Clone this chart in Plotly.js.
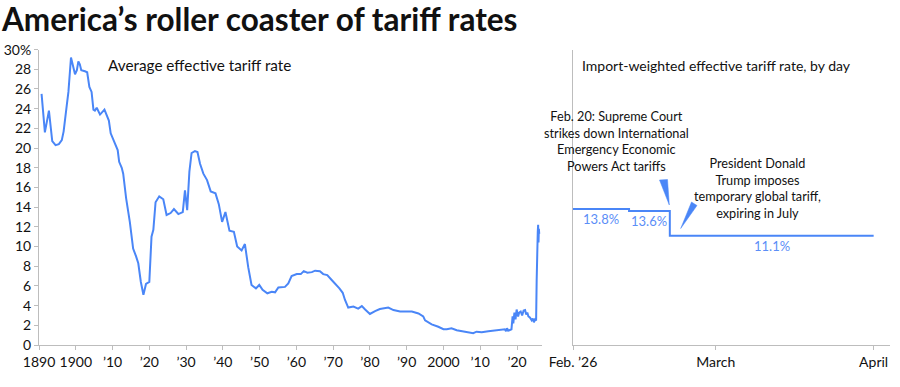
<!DOCTYPE html>
<html>
<head>
<meta charset="utf-8">
<script src="https://cdn.plot.ly/plotly-3.0.1.min.js"></script>
<style>html,body{margin:0;padding:0;background:#fff}#chart{width:900px;height:387px}</style>
</head>
<body>
<div id="chart"></div>
<script>
// ---- Data: average effective tariff rate (percent), by year ----
const histYears = [1890.7,1891.6,1892.7,1893.6,1894.5,1895.4,1896.2,1896.7,1897.6,1898.0,1898.7,1899.2,1899.8,1900.3,1900.7,1901.1,1901.5,1902.5,1903.1,1903.7,1904.3,1904.8,1905.2,1905.7,1906.6,1907.8,1908.4,1909.0,1909.5,1910.2,1910.7,1911.4,1911.8,1912.5,1912.9,1913.7,1914.7,1915.6,1916.4,1917.0,1917.7,1918.4,1919.1,1920.0,1920.6,1921.1,1921.7,1922.7,1923.8,1924.7,1925.8,1926.7,1927.9,1929.1,1929.7,1930.3,1930.9,1931.5,1932.4,1933.1,1933.8,1934.7,1935.7,1936.7,1938.0,1938.9,1939.8,1940.7,1941.8,1943.0,1943.9,1945.1,1946.0,1946.9,1947.8,1949.0,1949.9,1950.8,1952.1,1953.3,1954.2,1955.1,1956.9,1957.8,1958.7,1960.1,1961.2,1962.0,1963.0,1964.2,1965.1,1966.4,1967.3,1968.4,1969.6,1970.5,1971.7,1972.6,1973.2,1974.1,1975.5,1976.8,1977.8,1978.7,1980.0,1981.4,1982.7,1985.0,1986.4,1988.2,1990.0,1991.4,1993.2,1994.5,1995.0,1996.8,1998.6,2000.0,2000.9,2002.2,2003.6,2005.4,2007.2,2008.1,2009.0,2010.4,2012.2,2014.0,2015.8,2016.7,2017.0,2017.3,2017.6,2018.1,2018.5,2018.8,2019.0,2019.3,2019.6,2019.9,2020.3,2020.6,2021.0,2021.4,2021.8,2022.2,2022.5,2022.8,2023.1,2023.5,2024.0,2024.3,2024.6,2024.9,2025.2,2025.35,2025.45,2025.55,2025.65,2025.75,2025.85,2025.95,2026.05];
const histRates = [25.5,21.6,23.8,20.7,20.3,20.4,20.8,21.7,24.5,25.7,29.2,28.4,27.5,27.9,28.8,28.5,27.9,27.8,27.7,26.2,25.7,23.9,23.8,24.1,23.4,23.9,23.3,22.8,21.5,20.8,20.4,19.8,18.6,18.0,17.4,14.9,12.5,9.8,9.0,8.3,6.4,5.1,6.2,6.4,11.0,11.7,14.5,15.1,14.8,13.2,13.4,13.8,13.3,13.5,15.7,13.7,17.6,19.5,19.7,19.6,18.4,17.4,16.75,15.6,15.4,14.3,12.5,13.5,11.6,11.5,10.0,9.6,10.25,7.9,6.1,5.75,6.1,5.6,5.25,5.4,5.35,5.85,5.9,6.25,7.0,7.2,7.2,7.5,7.35,7.4,7.55,7.5,7.2,7.1,6.6,6.25,5.75,5.3,4.6,3.8,3.9,3.7,3.95,3.6,3.15,3.45,3.65,3.8,3.55,3.4,3.4,3.4,3.2,2.9,2.5,2.1,1.85,1.6,1.6,1.7,1.5,1.4,1.3,1.2,1.35,1.3,1.4,1.45,1.5,1.6,1.4,1.7,1.45,1.55,1.6,2.9,2.2,3.3,2.6,3.6,2.9,3.3,3.4,3.0,3.5,3.55,3.1,3.3,2.9,2.8,2.5,2.7,2.3,2.6,2.5,6.6,10.0,10.6,11.5,12.2,10.4,11.8,11.3];

// ---- Data: import-weighted effective tariff rate, by day (2026) ----
const dailyDates = ['2026-02-01','2026-02-12','2026-02-20','2026-04-01'];
const dailyRates = [13.8,13.6,11.1,11.1];
const dailyLabels = ['13.8%','13.6%','11.1%'];
const dailyLabelDates = ['2026-02-06 12:00','2026-02-16','2026-03-12'];

// ---- Tick labels ----
const histTickVals = [1890,1900,1910,1920,1930,1940,1950,1960,1970,1980,1990,2000,2010,2020];
const histTickText = ['1890','1900','\u201910','\u201920','\u201930','\u201940','\u201950','\u201960','\u201970','\u201980','\u201990','2000','\u201910','\u201920'];
const yTickVals = [0,2,4,6,8,10,12,14,16,18,20,22,24,26,28,30];
const yTickText = ['0','2','4','6','8','10','12','14','16','18','20','22','24','26','28','30%'];
const dayTickVals = ['2026-02-01','2026-03-01','2026-04-01'];
const dayTickText = ['Feb. \u201926','March','April'];

const titleText = 'America\u2019s roller coaster of tariff rates';
const leftTitle = 'Average effective tariff rate';
const rightTitle = 'Import-weighted effective tariff rate, by day';
const note1 = ['Feb. 20: Supreme Court','strikes down International','Emergency Economic','Powers Act tariffs'];
const note2 = ['President Donald','Trump imposes','temporary global tariff,','expiring in July'];

// ---- Styling ----
const W = 900, H = 387;
const FONT = 'Lato, "Open Sans", sans-serif';
const LINE = '#4a86f7';
const LABEL = '#5b8ef7';
const AXIS = '#bdbdbd';
const TXT = '#111111';
const px = (x) => x / W;
const py = (y) => 1 - y / H;

const yDomain = [py(345), py(49.6)];

// pointer wedges (decorative), in page pixels on a hidden full-page overlay axis
const wedges = [
  [[659.5,180],[667.5,179.5],[669.3,205]],
  [[691.5,202],[697,205.5],[680.7,228.5]]
];

const traces = [
  {x: histYears, y: histRates, type: 'scatter', mode: 'lines', xaxis: 'x', yaxis: 'y',
   line: {color: LINE, width: 2}, hoverinfo: 'skip'},
  {x: dailyDates, y: dailyRates, type: 'scatter', mode: 'lines', xaxis: 'x2', yaxis: 'y2',
   line: {color: LINE, width: 2, shape: 'hv'}, hoverinfo: 'skip'}
];
wedges.forEach(w => traces.push({
  x: w.map(p => p[0]).concat([w[0][0]]), y: w.map(p => p[1]).concat([w[0][1]]),
  type: 'scatter', mode: 'lines', fill: 'toself', fillcolor: LINE,
  line: {color: LINE, width: 0.5}, xaxis: 'x3', yaxis: 'y3', hoverinfo: 'skip'
}));

const annotations = [];
annotations.push({xref: 'paper', yref: 'paper', x: px(106), y: py(65), xanchor: 'left', yanchor: 'middle',
  text: leftTitle, showarrow: false, font: {family: FONT, size: 15.3, color: TXT}});
annotations.push({xref: 'paper', yref: 'paper', x: px(580), y: py(65), xanchor: 'left', yanchor: 'middle',
  text: rightTitle, showarrow: false, font: {family: FONT, size: 14, color: TXT}});
annotations.push({xref: 'paper', yref: 'paper', x: px(616), y: py(141), xanchor: 'center', yanchor: 'middle',
  align: 'center', text: note1.join('<br>'), showarrow: false, font: {family: FONT, size: 12.7, color: TXT}});
annotations.push({xref: 'paper', yref: 'paper', x: px(757), y: py(187.5), xanchor: 'center', yanchor: 'middle',
  align: 'center', text: note2.join('<br>'), showarrow: false, font: {family: FONT, size: 12.7, color: TXT}});
dailyLabels.forEach((t, i) => annotations.push({xref: 'x2', yref: 'y2', x: dailyLabelDates[i], y: dailyRates[i],
  xanchor: 'center', yanchor: 'middle', yshift: -10, text: t, showarrow: false,
  font: {family: FONT, size: 13, color: LABEL}}));

const axisCommon = {showgrid: false, zeroline: false, showline: true, linecolor: AXIS, linewidth: 1,
  ticks: 'outside', ticklen: 4, tickcolor: AXIS, tickfont: {family: FONT, size: 14, color: TXT}, fixedrange: true};

const layout = {
  width: W, height: H, margin: {l: 0, r: 0, t: 0, b: 0},
  paper_bgcolor: '#fff', plot_bgcolor: 'rgba(0,0,0,0)', showlegend: false,
  font: {family: FONT, color: TXT},
  title: {text: '<b>' + titleText + '</b>', x: px(2), xanchor: 'left', xref: 'paper',
    y: py(20), yref: 'container', yanchor: 'middle', font: {family: FONT, size: 31.5, color: TXT}},
  xaxis: Object.assign({}, axisCommon, {domain: [px(39), px(542)], range: [1890, 2026.8], anchor: 'y',
    tickmode: 'array', tickvals: histTickVals, ticktext: histTickText}),
  yaxis: Object.assign({}, axisCommon, {domain: yDomain, range: [0, 30], anchor: 'x',
    tickmode: 'array', tickvals: yTickVals, ticktext: yTickText}),
  xaxis2: Object.assign({}, axisCommon, {domain: [px(573), px(890)], type: 'date',
    range: ['2026-02-01', '2026-04-04 05:00'], anchor: 'y2',
    tickmode: 'array', tickvals: dayTickVals, ticktext: dayTickText}),
  yaxis2: Object.assign({}, axisCommon, {domain: yDomain, range: [0, 30], anchor: 'x2',
    showticklabels: false, ticks: ''}),
  xaxis3: {domain: [0, 1], range: [0, W], visible: false, fixedrange: true, anchor: 'y3'},
  yaxis3: {domain: [0, 1], range: [H, 0], visible: false, fixedrange: true, anchor: 'x3'},
  annotations: annotations
};

Plotly.newPlot('chart', traces, layout, {staticPlot: true, displayModeBar: false});
</script>
</body>
</html>
